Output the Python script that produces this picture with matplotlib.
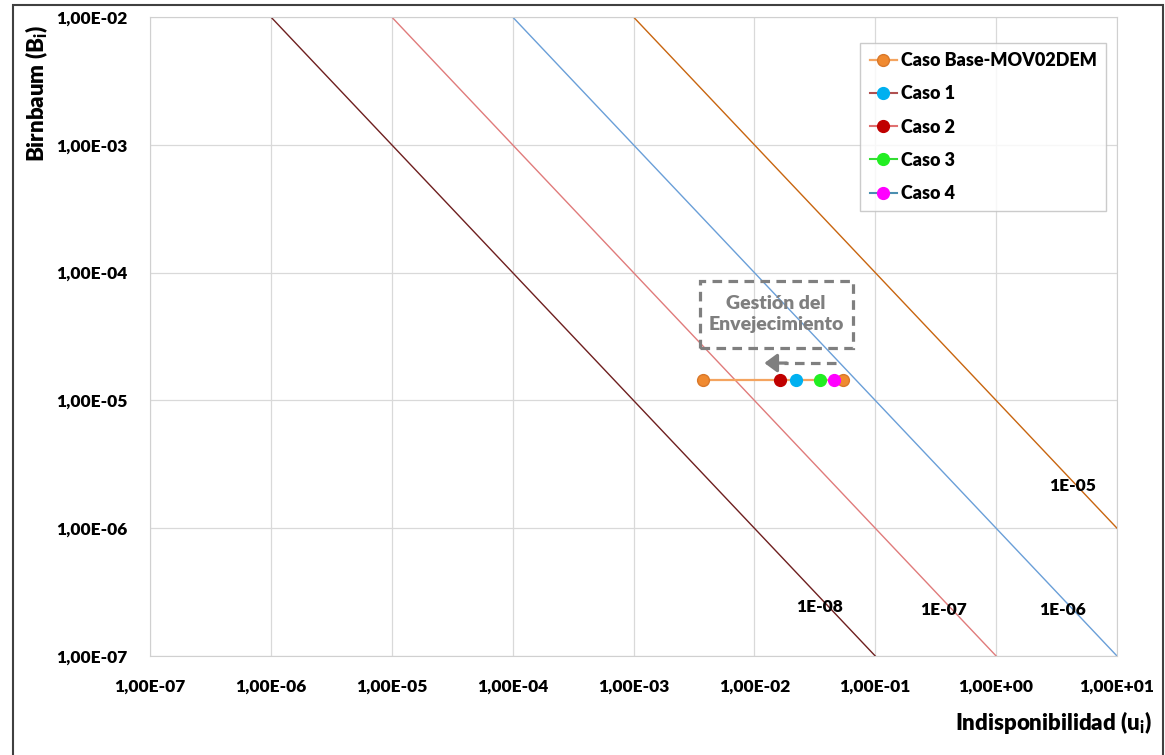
import matplotlib
matplotlib.use("Agg")
import matplotlib.pyplot as plt
import numpy as np
from matplotlib.patches import Rectangle
from matplotlib.ticker import FuncFormatter, LogLocator, NullLocator

plt.rcParams["font.family"] = ["Lato", "DejaVu Sans"]
plt.rcParams["font.weight"] = "heavy"
plt.rcParams["mathtext.fontset"] = "custom"
plt.rcParams["mathtext.rm"] = "Lato:heavy"
plt.rcParams["mathtext.bf"] = "Lato:heavy"

W = "heavy"

# iso-risk lines: B * u = constant
risk_levels = [1e-8, 1e-7, 1e-6, 1e-5]
risk_labels = ["1E-08", "1E-07", "1E-06", "1E-05"]
risk_colors = ["#6e1f1f", "#e07b7b", "#6a9fd8", "#c8650f"]
risk_label_pos = [(0.0348, 2.42e-7), (0.369, 2.29e-7), (3.56, 2.29e-7), (4.31, 2.14e-6)]

# MOV02DEM cases (unavailability, Birnbaum importance)
base_u = [3.75e-3, 0.054]
base_b = [1.44e-5, 1.44e-5]
case_names = ["Caso 1", "Caso 2", "Caso 3", "Caso 4"]
case_u = [0.022, 0.0163, 0.0348, 0.0455]
case_b = [1.44e-5, 1.44e-5, 1.44e-5, 1.44e-5]
case_colors = ["#00b0f0", "#c00000", "#22ee22", "#ff00ff"]
case_line_colors = ["#b05050", "#e07070", "#33dd33", "#4a8fb0"]

fig = plt.figure(figsize=(11.65, 7.55), dpi=100)
ax = fig.add_axes([150 / 1165, 1 - 656 / 755, 967 / 1165, 639 / 755])

u = np.logspace(-7, 1, 400)
for r, col in zip(risk_levels, risk_colors):
    ax.plot(u, r / u, color=col, lw=1.0, zorder=2)
for (x, y), lab in zip(risk_label_pos, risk_labels):
    ax.text(x, y, lab, ha="center", va="center", fontsize=12.5,
            fontweight=W, color="black", zorder=5)

ax.plot(base_u, base_b, "-o", color="#f4a460", lw=1.6, ms=8.5,
        mfc="#f08a30", mec="#d9782a", label="Caso Base-MOV02DEM", zorder=4)
for name, x, y, c, lc in zip(case_names, case_u, case_b, case_colors, case_line_colors):
    ax.plot([x], [y], "-o", color=lc, ms=8.5, mfc=c, mec=c, label=name, zorder=5)

ax.set_xscale("log")
ax.set_yscale("log")
ax.set_xlim(1e-7, 1e1)
ax.set_ylim(1e-7, 1e-2)
ax.xaxis.set_major_locator(LogLocator(base=10, numticks=20))
ax.yaxis.set_major_locator(LogLocator(base=10, numticks=20))
ax.xaxis.set_minor_locator(NullLocator())
ax.yaxis.set_minor_locator(NullLocator())
fmt = FuncFormatter(lambda v, p: f"{v:.2E}".replace(".", ","))
ax.xaxis.set_major_formatter(fmt)
ax.yaxis.set_major_formatter(fmt)
ax.tick_params(length=0, labelsize=12.5, pad=16)
for lab in ax.get_xticklabels() + ax.get_yticklabels():
    lab.set_fontweight(W)
ax.grid(True, color="#d9d9d9", lw=0.9)
for s in ax.spines.values():
    s.set_color("#d0d0d0")

# ageing management annotation
ax.add_patch(Rectangle((3.54e-3, 2.57e-5), 0.0653 - 3.54e-3, 8.6e-5 - 2.57e-5,
                       fill=False, ec="#7f7f7f", lw=2.3, ls=(0, (3, 2)), zorder=3))
ax.text(0.0151, 4.74e-5, "Gestión del\nEnvejecimiento", ha="center", va="center",
        fontsize=14, fontweight=W, color="#7f7f7f", linespacing=1.35, zorder=3)
ax.plot([0.047, 0.0175], [1.96e-5, 1.96e-5], color="#7f7f7f", lw=2.3,
        ls=(0, (3, 2)), zorder=3)
ax.annotate("", xy=(0.0121, 1.96e-5), xytext=(0.0185, 1.96e-5),
            arrowprops=dict(arrowstyle="-|>,head_length=0.75,head_width=0.55",
                            color="#7f7f7f", lw=2.3, shrinkA=0, shrinkB=0), zorder=3)

leg = ax.legend(loc="upper right", bbox_to_anchor=(1106 / 1165, 1 - 43 / 755),
                bbox_transform=fig.transFigure, frameon=True, fancybox=False,
                prop={"weight": W, "size": 13}, labelspacing=0.9,
                handlelength=1.5, handletextpad=0.25, borderpad=0.5,
                borderaxespad=0)
leg.get_frame().set_edgecolor("#bfbfbf")
leg.get_frame().set_linewidth(1.0)

fig.text(37 / 1165, 1 - 25 / 755, r"Birnbaum (B$_{\mathbf{i}}$)", rotation=90,
         ha="center", va="top", fontsize=16, fontweight=W)
fig.text(1152 / 1165, 1 - 722 / 755, r"Indisponibilidad (u$_{\mathbf{i}}$)",
         ha="right", va="center", fontsize=16, fontweight=W)

fig.add_artist(Rectangle((13 / 1165, -0.05), 1150 / 1165, 1.05 - 5 / 755,
                         transform=fig.transFigure, fill=False, ec="#404040", lw=1.5))

fig.savefig("out.png", dpi=100)
